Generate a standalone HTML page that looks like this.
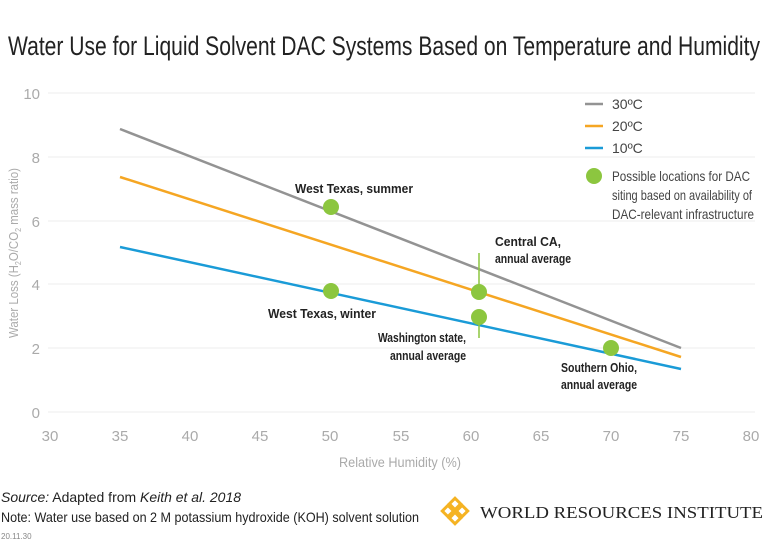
<!DOCTYPE html>
<html><head><meta charset="utf-8"><style>
body{margin:0;background:#fff;}
svg{display:block;font-family:"Liberation Sans",sans-serif;}
</style></head><body>
<svg width="768" height="554" viewBox="0 0 768 554" xmlns="http://www.w3.org/2000/svg">
<text x="8" y="55" font-size="27" fill="#222" textLength="752" lengthAdjust="spacingAndGlyphs">Water Use for Liquid Solvent DAC Systems Based on Temperature and Humidity</text>
<g stroke="#eee" stroke-width="1">
<line x1="48" y1="93" x2="755" y2="93"/><line x1="48" y1="157" x2="755" y2="157"/>
<line x1="48" y1="221" x2="755" y2="221"/><line x1="48" y1="284" x2="755" y2="284"/>
<line x1="48" y1="348" x2="755" y2="348"/><line x1="48" y1="412" x2="755" y2="412"/>
</g>
<g fill="#aaa" font-size="15" text-anchor="end">
<text x="40" y="99">10</text><text x="40" y="163">8</text><text x="40" y="227">6</text>
<text x="40" y="290">4</text><text x="40" y="354">2</text><text x="40" y="418">0</text>
</g>
<g fill="#aaa" font-size="15" text-anchor="middle">
<text x="50" y="441">30</text><text x="120" y="441">35</text><text x="190" y="441">40</text>
<text x="260" y="441">45</text><text x="330" y="441">50</text><text x="401" y="441">55</text>
<text x="471" y="441">60</text><text x="541" y="441">65</text><text x="611" y="441">70</text>
<text x="681" y="441">75</text><text x="751" y="441">80</text>
<text x="400" y="467" font-size="14" textLength="122" lengthAdjust="spacingAndGlyphs">Relative Humidity (%)</text>
</g>
<text transform="translate(18,253) rotate(-90)" fill="#aaa" font-size="13" text-anchor="middle" textLength="170" lengthAdjust="spacingAndGlyphs">Water Loss (H<tspan font-size="8" dy="3">2</tspan><tspan dy="-3">O/CO</tspan><tspan font-size="8" dy="3">2</tspan><tspan dy="-3"> mass ratio)</tspan></text>
<line x1="120" y1="129" x2="681" y2="348" stroke="#939393" stroke-width="2.5"/>
<line x1="120" y1="177" x2="681" y2="357" stroke="#f5a623" stroke-width="2.5"/>
<line x1="120" y1="247" x2="681" y2="369" stroke="#1a9bd7" stroke-width="2.5"/>
<g stroke="#8cc63f" stroke-width="1.5"><line x1="479" y1="253" x2="479" y2="287"/><line x1="479" y1="318" x2="479" y2="338"/></g>
<g fill="#8cc63f">
<circle cx="331" cy="207" r="8"/><circle cx="331" cy="291" r="8"/>
<circle cx="479" cy="292" r="8"/><circle cx="479" cy="317" r="8"/><circle cx="611" cy="348" r="8"/>
</g>
<g font-size="12.5" fill="#222" font-weight="bold" lengthAdjust="spacingAndGlyphs">
<text x="295" y="193" textLength="118" lengthAdjust="spacingAndGlyphs">West Texas, summer</text>
<text x="268" y="318" textLength="108" lengthAdjust="spacingAndGlyphs">West Texas, winter</text>
<text x="495" y="246" textLength="66" lengthAdjust="spacingAndGlyphs">Central CA,</text><text x="495" y="263" textLength="76" lengthAdjust="spacingAndGlyphs">annual average</text>
<text x="466" y="342" text-anchor="end" textLength="88" lengthAdjust="spacingAndGlyphs">Washington state,</text><text x="466" y="360" text-anchor="end" textLength="76" lengthAdjust="spacingAndGlyphs">annual average</text>
<text x="637" y="372" text-anchor="end" textLength="76" lengthAdjust="spacingAndGlyphs">Southern Ohio,</text><text x="637" y="389" text-anchor="end" textLength="76" lengthAdjust="spacingAndGlyphs">annual average</text>
</g>
<g font-size="14" fill="#444">
<line x1="585" y1="104" x2="603" y2="104" stroke="#939393" stroke-width="2.5"/><text x="612" y="109">30ºC</text>
<line x1="585" y1="126" x2="603" y2="126" stroke="#f5a623" stroke-width="2.5"/><text x="612" y="131">20ºC</text>
<line x1="585" y1="148" x2="603" y2="148" stroke="#1a9bd7" stroke-width="2.5"/><text x="612" y="153">10ºC</text>
<circle cx="594" cy="176" r="8" fill="#8cc63f"/>
<text x="612" y="181" textLength="138" lengthAdjust="spacingAndGlyphs">Possible locations for DAC</text>
<text x="612" y="200" textLength="140" lengthAdjust="spacingAndGlyphs">siting based on availability of</text>
<text x="612" y="219" textLength="142" lengthAdjust="spacingAndGlyphs">DAC-relevant infrastructure</text>
</g>
<g font-size="14" fill="#222">
<text x="1" y="502" textLength="240" lengthAdjust="spacingAndGlyphs"><tspan font-style="italic">Source:</tspan> Adapted from <tspan font-style="italic">Keith et al. 2018</tspan></text>
<text x="1" y="522" textLength="418" lengthAdjust="spacingAndGlyphs">Note: Water use based on 2 M potassium hydroxide (KOH) solvent solution</text>
<text x="1" y="539" font-size="8" fill="#888">20.11.30</text>
</g>
<g transform="translate(455,511) rotate(45)" fill="none" stroke="#f5b323" stroke-width="3">
<rect x="-9" y="-9" width="8" height="8"/><rect x="1" y="-9" width="8" height="8"/>
<rect x="-9" y="1" width="8" height="8"/><rect x="1" y="1" width="8" height="8"/>
</g>
<text x="480" y="518" font-family="Liberation Serif,serif" font-size="17" fill="#222" textLength="283" lengthAdjust="spacingAndGlyphs">WORLD RESOURCES INSTITUTE</text>
</svg>
</body></html>
